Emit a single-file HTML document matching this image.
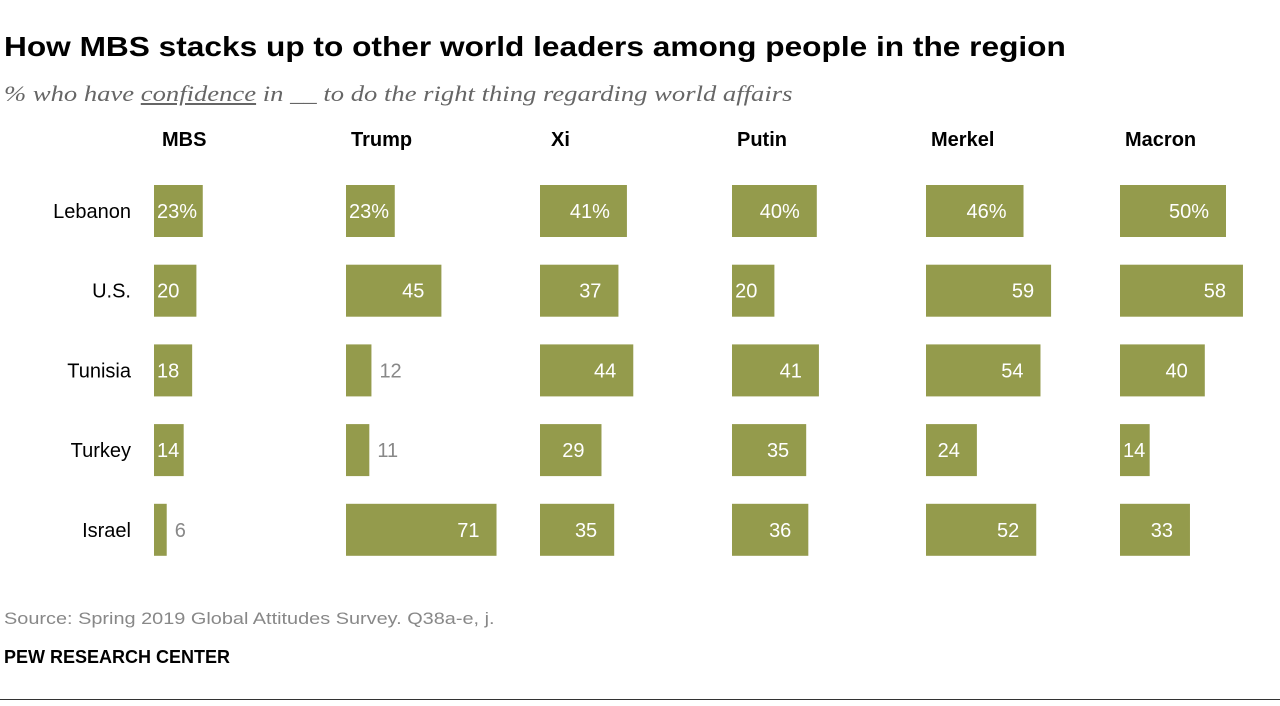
<!DOCTYPE html>
<html><head><meta charset="utf-8"><style>
body{margin:0;width:1280px;height:706px;background:#fff;font-family:"Liberation Sans",sans-serif;position:relative;overflow:hidden}
.t{position:absolute;white-space:nowrap;transform-origin:0 0}
</style></head><body>
<div class="t" style="left:4px;top:31px;font-size:28px;font-weight:bold;color:#000;transform:scaleX(1.13)">How MBS stacks up to other world leaders among people in the region</div>
<div class="t" style="left:4px;top:81px;font-size:22px;font-style:italic;font-family:'Liberation Serif',serif;color:#666;transform:scaleX(1.21)">% who have <u>confidence</u> in __ to do the right thing regarding world affairs</div>
<svg id="chart" width="1280" height="600" style="position:absolute;left:0;top:0"></svg>
<div class="t" style="left:4px;top:609px;font-size:17px;color:#888;transform:scaleX(1.17)">Source: Spring 2019 Global Attitudes Survey. Q38a-e, j.</div>
<div class="t" style="left:4px;top:647px;font-size:18px;font-weight:bold;color:#000">PEW RESEARCH CENTER</div>
<div style="position:absolute;left:0;top:699px;width:1280px;height:1px;background:#333"></div>
<script>
const leaders=["MBS","Trump","Xi","Putin","Merkel","Macron"];
const countries=["Lebanon","U.S.","Tunisia","Turkey","Israel"];
const MBS=[23,20,18,14,6];
const Trump=[23,45,12,11,71];
const Xi=[41,37,44,29,35];
const Putin=[40,20,41,35,36];
const Merkel=[46,59,54,24,52];
const Macron=[50,58,40,14,33];
const series=[MBS,Trump,Xi,Putin,Merkel,Macron];
const NS="http://www.w3.org/2000/svg";
const svg=document.getElementById('chart');
const colX=[154,346,540,732,926,1120];
const scale=2.12;
function yRow(i){return 211+i*79.7;}
function mk(tag,attrs,txt){const e=document.createElementNS(NS,tag);for(const k in attrs)e.setAttribute(k,attrs[k]);if(txt!==undefined)e.textContent=txt;svg.appendChild(e);return e;}
leaders.forEach((l,j)=>{
  const h=mk('text',{x:colX[j]+(j==0?8:(j==2?11:5)),y:146,'font-size':20,'font-weight':'bold',fill:'#000'},l);
  
  
});
countries.forEach((c,i)=>{
  const t=mk('text',{x:131,y:yRow(i)+7,'text-anchor':'end','font-size':20,fill:'#000'},c);
  
  
  series.forEach((s,j)=>{
    const v=s[i];const w=v*scale;const x=colX[j];
    const r=mk('rect',{x:x,y:yRow(i)-26,width:w,height:52,fill:'#949b4c'});
    
    
    const lab=(i==0?v+'%':String(v));
    let lt;
    if(v<13){
      lt=mk('text',{x:x+w+8,y:yRow(i)+7,'font-size':20,fill:'#888'},lab);
    }else{
      const tw=lab.length*11.2+(i==0?3:0);
      if(x+w-17<x+3+tw){
        lt=mk('text',{x:x+3,y:yRow(i)+7,'font-size':20,fill:'#fff'},lab);
      }else{
        lt=mk('text',{x:x+w-17,y:yRow(i)+7,'text-anchor':'end','font-size':20,fill:'#fff'},lab);
      }
    }
    
    
  });
});
</script>
</body></html>
